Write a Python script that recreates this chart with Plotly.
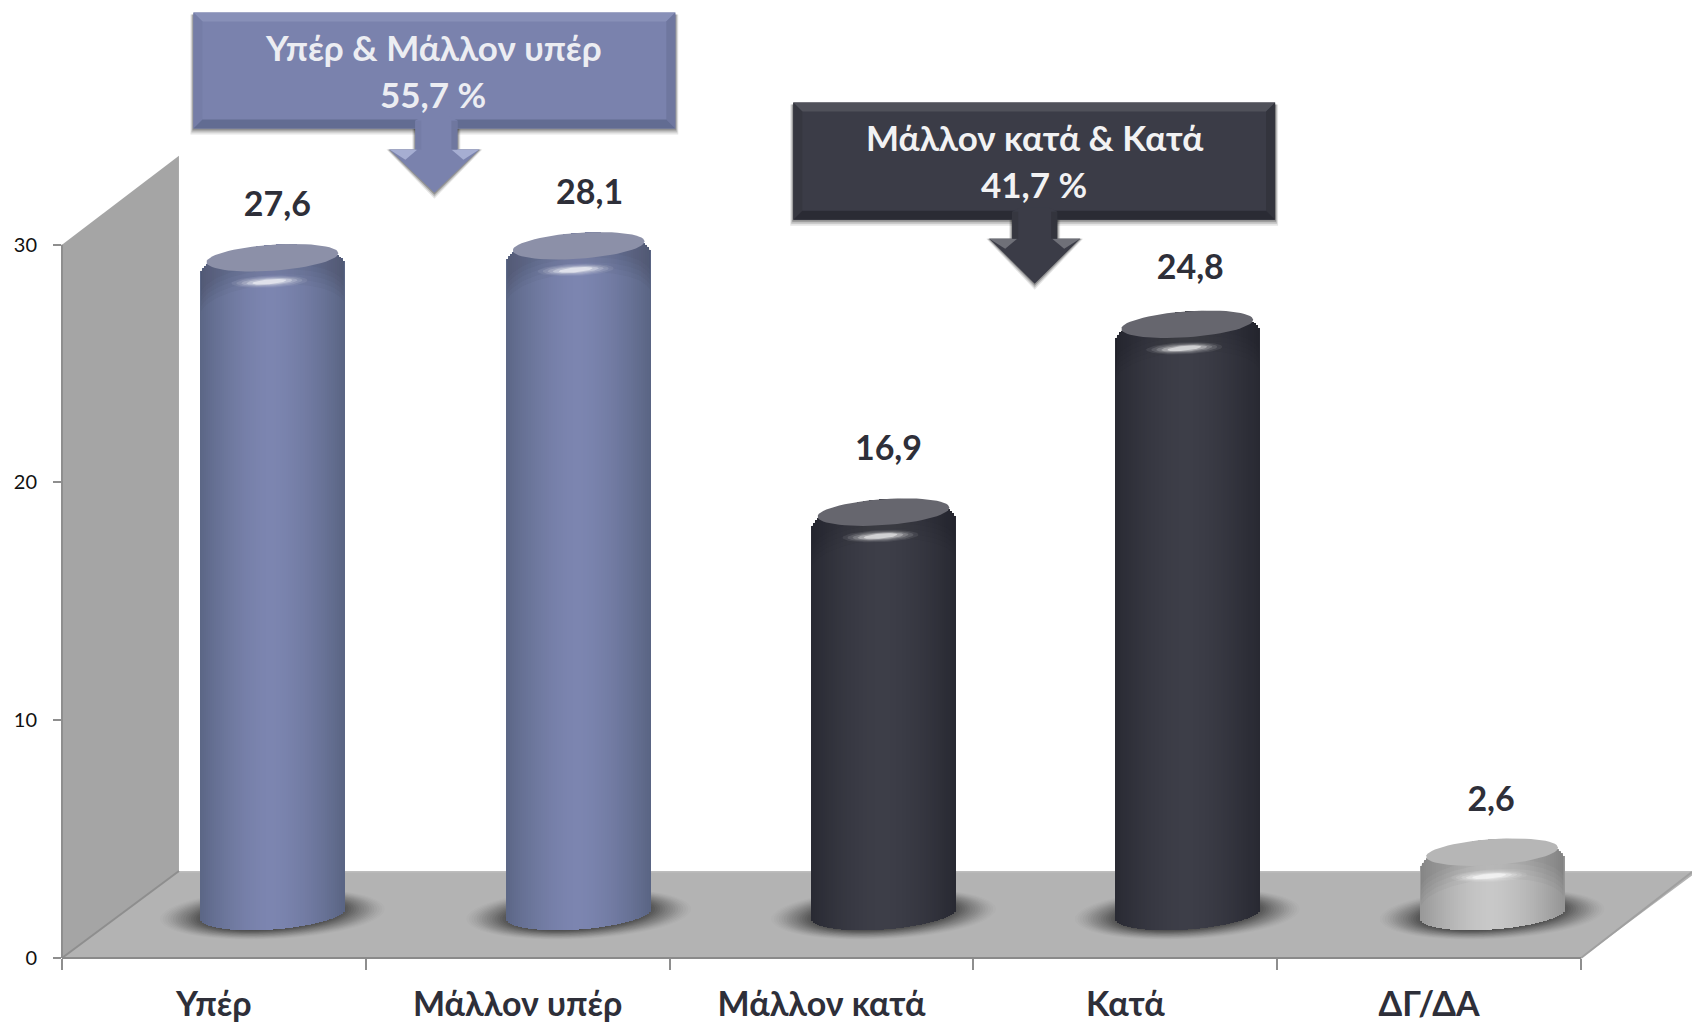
import math
import plotly.graph_objects as go

# ---------- data ----------
categories = ["Υπέρ", "Μάλλον υπέρ", "Μάλλον κατά", "Κατά", "ΔΓ/ΔΑ"]
values = [27.6, 28.1, 16.9, 24.8, 2.6]
value_labels = ["27,6", "28,1", "16,9", "24,8", "2,6"]
y_ticks = [0, 10, 20, 30]
callout_pos = ["Υπέρ & Μάλλον υπέρ", "55,7 %"]
callout_neg = ["Μάλλον κατά & Κατά", "41,7 %"]

# ---------- layout geometry ----------
W, H = 1692, 1025
YMAX = 36
L, R, B = 61.5, 1581, 958
T30 = 245
PX = (R - L) / 5          # pixels per x unit
PY = (B - T30) / 30       # pixels per y unit
T = B - YMAX * PY
FONT = "Lato, 'Noto Sans', sans-serif"

def px(x):
    return (x - L) / (R - L)

def py(y):
    return (B - y) / (B - T)

def path(points):
    return "M " + " L ".join(f"{px(x):.5f},{py(y):.5f}" for x, y in points) + " Z"

# ---------- colours per bar (edge, centre, cap) ----------
BLUE = ((90, 101, 132), (124, 133, 176), "#8C90A8")
DARK = ((40, 41, 50), (61, 62, 72), "#66666E")
GREY = ((150, 150, 150), (200, 200, 200), "#B6B6B6")
bar_styles = [BLUE, BLUE, DARK, DARK, GREY]

# ---------- 3D projection of the columns ----------
SHIFT = 61 / PX            # depth shift to the right
DEPTH = 44 / PY            # depth shift upward
HALF = 72.3 / PX           # half column width
TILT = 5 / PY
BASE_B = 15.5 / PY
TOP_B = 13 / PY
CAP_A = 66 / PX
bar_nudge = [-2.5, 0, 1, 1, 2]
centres = [i + 0.5 + SHIFT + d / PX for i, d in enumerate(bar_nudge)]

def lerp(a, b, f):
    return tuple(round(a[k] + (b[k] - a[k]) * f) for k in range(3))

def ellipse(cx, cy, a, b, tilt=0.0, n=60):
    xs, ys = [], []
    for k in range(n + 1):
        th = 2 * math.pi * k / n
        c, s = math.cos(th), math.sin(th)
        xs.append(cx + a * c)
        ys.append(cy + b * s + tilt * c)
    return xs, ys

fig = go.Figure()
shapes = []

def poly(points, fill, line=None, lw=0, layer="below"):
    shapes.append(dict(type="path", xref="paper", yref="paper", path=path(points),
                       fillcolor=fill, line=dict(color=line or fill, width=lw), layer=layer))

def blob(xs, ys, color):
    fig.add_trace(go.Scatter(x=xs, y=ys, mode="lines", fill="toself", fillcolor=color,
                             line=dict(width=0), hoverinfo="skip", showlegend=False,
                             cliponaxis=False))

# wall and floor
BX, BY = 117, 87
poly([(L, T30), (L + BX, 156), (L + BX, B - BY), (L, B)], "#A5A5A5")
poly([(L, B), (L + BX, B - BY), (W + 2, B - BY), (W + 2, B - 84), (R, B)], "#B3B3B3")
poly([(L + BX, B - BY), (W, B - BY), (W, B - BY + 1.5), (L + BX, B - BY + 1.5)], "#BDBDBD")
for a, b, col in (((L, B), (L + BX, B - BY), "#8E8E8E"), ((R, B), (W, B - 86), "#A0A0A0"),
                  ((L, T30), (L, B), "#8E8E8E"), ((L, B), (R, B), "#8A8A8A")):
    shapes.append(dict(type="line", xref="paper", yref="paper", x0=px(a[0]), y0=py(a[1]),
                       x1=px(b[0]), y1=py(b[1]), line=dict(color=col, width=2), layer="below"))

# floor shadows (soft: many faint nested ellipses, placed in paper space so they can pass the last tick)
for lev in range(20):
    sc = 1.05 - lev * 0.024
    alpha = 0.02 + 0.0045 * lev
    for c in centres:
        ex, ey = ellipse(c, DEPTH, 107 / PX * sc, 24 / PY * sc, TILT)
        pts = [(L + x * PX, B - y * PY) for x, y in zip(ex, ey)]
        poly(pts, f"rgba(30,30,30,{alpha:.4f})")

# columns: vertical strips whose ends follow the projected ellipses
N = 72
for k in range(N):
    t0 = -1 + 2 * k / N
    t1 = t0 + 2 / N
    tc = (t0 + t1) / 2
    arc = math.sqrt(max(0, 1 - tc * tc))
    base = DEPTH + TILT * tc - BASE_B * arc
    top_off = DEPTH - TOP_B + 2 * TOP_B * arc + TILT * tc
    shade = max(0.0, 1 - abs(tc + 0.02) ** 1.6)
    fig.add_trace(go.Bar(
        x=centres,
        y=[v + top_off - base for v in values],
        base=base,
        offset=t0 * HALF,
        width=(t1 - t0) * HALF + 0.0012,
        marker=dict(color=[f"rgb{lerp(s[0], s[1], shade)}" for s in bar_styles], line=dict(width=0)),
        hoverinfo="skip", showlegend=False, cliponaxis=False))

# caps and highlights
for c, v, s in zip(centres, values, bar_styles):
    # rim shading just below the silhouette
    for drop, alpha in ((40, 0.03), (35, 0.03), (30, 0.03), (25, 0.03), (20, 0.03)):
        ts = [-0.985 + 1.97 * j / 50 for j in range(51)]
        xs = [c + HALF * t for t in ts]
        upper = [DEPTH + v - TOP_B + 2 * TOP_B * math.sqrt(1 - t * t) + TILT * t for t in ts]
        lower = [u - drop / PY for u in upper]
        blob(xs + xs[::-1], upper + lower[::-1], f"rgba(20,20,40,{alpha})")
    ex, ey = ellipse(c, DEPTH + v, CAP_A, TOP_B, TILT * 0.9)
    blob(ex, ey, s[2])
    for a, b, alpha in ((38, 6, 0.08), (33, 5, 0.12), (28, 4, 0.18), (23, 3.2, 0.3), (17, 2.4, 0.5)):
        ex, ey = ellipse(c - 3 / PX, DEPTH + v - 24 / PY, a / PX, b / PY, 1.5 / PY)
        blob(ex, ey, f"rgba(255,255,255,{alpha})")

# value labels
label_dx = [5, 11, 5, 3, -1]
label_lift = [3.95, 3.95, 4.4, 4.1, 3.95]
fig.add_trace(go.Scatter(
    x=[c + d / PX for c, d in zip(centres, label_dx)],
    y=[v + l for v, l in zip(values, label_lift)],
    mode="text", text=value_labels, textposition="middle center",
    textfont=dict(family=FONT, size=34, weight=700, color="#2E2F39"),
    hoverinfo="skip", showlegend=False, cliponaxis=False))

def callout(x0, y0, x1, y1, sx0, sx1, hx0, hx1, hy, tip, face, top, left, right, bottom, hi):
    bev = 9
    xm = (hx0 + hx1) / 2
    # soft drop shadow
    for off, alpha in ((6, 0.10), (4, 0.16), (2, 0.24)):
        poly([(x0 - off / 2, y0 + 2), (x1 + off / 2, y0 + 2), (x1 + off / 2, y1 + off), (x0 - off / 2, y1 + off)],
             f"rgba(0,0,0,{alpha})")
        poly([(sx0 - off / 2, y1), (sx1 + off / 2, y1), (sx1 + off / 2, hy), (hx1 + off / 2, hy),
              (xm, tip + off), (hx0 - off / 2, hy), (sx0 - off / 2, hy)], f"rgba(0,0,0,{alpha})")
    poly([(x0, y0), (x1, y0), (x1, y1), (x0, y1)], face)
    poly([(x0, y0), (x1, y0), (x1 - bev, y0 + bev), (x0 + bev, y0 + bev)], top)
    poly([(x0, y0), (x0 + bev, y0 + bev), (x0 + bev, y1 - bev), (x0, y1)], left)
    poly([(x1, y0), (x1 - bev, y0 + bev), (x1 - bev, y1 - bev), (x1, y1)], right)
    poly([(x0, y1), (x0 + bev, y1 - bev), (x1 - bev, y1 - bev), (x1, y1)], bottom)
    # arrow
    poly([(sx0, y1 - 8), (sx0 + 8, y1 - 12), (sx1 - 8, y1 - 12), (sx1, y1 - 8), (sx1, hy), (hx1, hy),
          (xm, tip), (hx0, hy), (sx0, hy)], face)
    poly([(hx0, hy), (hx0 + 28, hy), (hx0 + 16, hy + 10)], hi)
    poly([(hx1, hy), (hx1 - 28, hy), (hx1 - 16, hy + 10)], hi)
    poly([(sx0, y1 - 8), (sx0 + 6, y1 - 8), (sx0 + 6, hy), (sx0, hy)], left)
    poly([(sx1, y1 - 8), (sx1 - 6, y1 - 8), (sx1 - 6, hy), (sx1, hy)], right)

callout(193, 13, 675, 129, 415, 457, 389, 479, 150, 193,
        "#7A82AD", "#8890B8", "#757DA7", "#6F779F", "#626C92", "#A6AED2")
callout(793, 103, 1275, 220, 1012, 1057, 989, 1080, 239, 284,
        "#3B3C47", "#50515A", "#363740", "#33343D", "#2A2B34", "#6F7078")

annotations = []
def box_text(lines, cx, ys, color):
    for text, y in zip(lines, ys):
        annotations.append(dict(xref="paper", yref="paper", x=px(cx), y=py(y), text=text,
                                showarrow=False, xanchor="center", yanchor="middle",
                                font=dict(family=FONT, size=35, weight=700, color=color)))

box_text(callout_pos, 433, (47, 94), "#ECEDF2")
box_text(callout_neg, 1034, (137, 184), "#F2F2F3")

fig.update_layout(
    width=W, height=H, autosize=False,
    margin=dict(l=L, r=W - R, t=T, b=H - B, pad=0, autoexpand=False),
    paper_bgcolor="white", plot_bgcolor="rgba(0,0,0,0)",
    barmode="overlay", bargap=0, showlegend=False,
    font=dict(family=FONT),
    shapes=shapes, annotations=annotations,
    xaxis=dict(range=[0, 5], tickmode="array", tickvals=[i + 0.5 for i in range(5)],
               ticktext=categories, ticks="", showgrid=False, zeroline=False, showline=False,
               tickfont=dict(family=FONT, size=34, weight=700, color="#2E2F39"),
               ticklabelstandoff=23,
               minor=dict(ticks="outside", tick0=0, dtick=1, ticklen=11, tickwidth=2,
                          tickcolor="#8E8E8E", showgrid=False)),
    yaxis=dict(range=[0, YMAX], tickmode="array", tickvals=y_ticks, ticks="outside", ticklen=8,
               tickwidth=2, tickcolor="#8E8E8E", showgrid=False, zeroline=False, showline=False,
               tickfont=dict(family=FONT, size=20, color="#111111"), ticklabelstandoff=12),
)

fig.write_html("out.html", post_script="document.body.style.margin='0';document.body.style.overflow='hidden';",
               config=dict(displayModeBar=False))
